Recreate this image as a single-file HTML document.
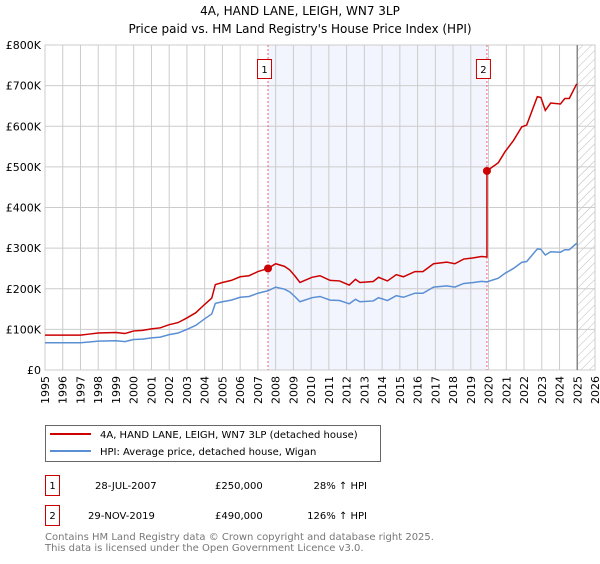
<!DOCTYPE html>
<html><head><meta charset="utf-8"><style>
body{margin:0;background:#fff;width:600px;height:560px;overflow:hidden;font-family:"DejaVu Sans","Liberation Sans",sans-serif;}
svg text{font-family:"DejaVu Sans","Liberation Sans",sans-serif;}
</style></head><body>
<svg id="chart" width="600" height="560" viewBox="0 0 600 560" xmlns="http://www.w3.org/2000/svg">
<defs>
<pattern id="hatch" width="6" height="6" patternUnits="userSpaceOnUse" patternTransform="rotate(45)">
<line x1="0" y1="0" x2="0" y2="6" stroke="#bbb" stroke-width="1"/>
</pattern>
</defs>
<text x="300" y="15" text-anchor="middle" font-size="12" fill="#000">4A, HAND LANE, LEIGH, WN7 3LP</text>
<text x="300" y="33" text-anchor="middle" font-size="12" fill="#000">Price paid vs. HM Land Registry's House Price Index (HPI)</text>
<g id="plot"></g>
<g>
<rect x="45.5" y="425.5" width="335" height="36" fill="#fff" stroke="#666"/>
<line x1="50" y1="434" x2="91" y2="434" stroke="#cc0000" stroke-width="2"/>
<text x="100" y="438" font-size="10">4A, HAND LANE, LEIGH, WN7 3LP (detached house)</text>
<line x1="50" y1="451" x2="91" y2="451" stroke="#5b8fd4" stroke-width="2"/>
<text x="100" y="455" font-size="10">HPI: Average price, detached house, Wigan</text>
</g>
<g>
<rect x="45.5" y="475.5" width="14" height="20" fill="#fff" stroke="#cc0000"/>
<text x="52.5" y="489" text-anchor="middle" font-size="10">1</text>
<text x="95" y="489" font-size="10">28-JUL-2007</text>
<text x="215" y="489" font-size="10">£250,000</text>
<text x="367" y="489" text-anchor="end" font-size="10">28% ↑ HPI</text>
<rect x="45.5" y="505.5" width="14" height="20" fill="#fff" stroke="#cc0000"/>
<text x="52.5" y="519" text-anchor="middle" font-size="10">2</text>
<text x="88" y="519" font-size="10">29-NOV-2019</text>
<text x="215" y="519" font-size="10">£490,000</text>
<text x="367" y="519" text-anchor="end" font-size="10">126% ↑ HPI</text>
</g>
<text x="45" y="540" font-size="10" fill="#777">Contains HM Land Registry data © Crown copyright and database right 2025.</text>
<text x="45" y="551" font-size="10" fill="#777">This data is licensed under the Open Government Licence v3.0.</text>
</svg>
<script>
const hpiYears=[1995,1996,1997,1997.5,1998,1999,1999.5,2000,2000.5,2001,2001.5,2002,2002.5,2003,2003.5,2004,2004.4,2004.6,2005,2005.5,2006,2006.5,2007,2007.57,2008,2008.5,2008.8,2009.1,2009.37,2010.05,2010.5,2011.07,2011.6,2012.15,2012.5,2012.75,2013.5,2013.8,2014.3,2014.8,2015.2,2015.85,2016.3,2016.9,2017.65,2018.1,2018.6,2019.1,2019.6,2019.91,2020.55,2020.93,2021.4,2021.87,2022.15,2022.75,2022.95,2023.2,2023.5,2024.05,2024.3,2024.55,2024.97];
const hpiValues=[67,67,67,69,71,72,70,75,76,79,81,87,91,100,110,126,138,164,168,172,179,181,189,195,204,199,192,180,168,178,181,172,171,163,174,168,170,178,171,183,179,189,189,204,207,204,213,215,218,217,226,238,250,265,267,298,297,283,291,290,296,296,312];
const saleDates=[2007.57,2019.91];
const salePrices=[250,490];
const saleLabels=["1","2"];
const yTicks=[0,100,200,300,400,500,600,700,800];
const yTickLabels=["£0","£100K","£200K","£300K","£400K","£500K","£600K","£700K","£800K"];
const xTicks=[1995,1996,1997,1998,1999,2000,2001,2002,2003,2004,2005,2006,2007,2008,2009,2010,2011,2012,2013,2014,2015,2016,2017,2018,2019,2020,2021,2022,2023,2024,2025,2026];
const dataEnd=2025.0;

const NS="http://www.w3.org/2000/svg";
const L=45,R=595,T=45,B=370,X0=1995,X1=2026,YMAX=800;
const xs=v=>L+(v-X0)/(X1-X0)*(R-L);
const ys=v=>B-v/YMAX*(B-T);
const g=document.getElementById('plot');
function mk(tag,attrs,parent){const e=document.createElementNS(NS,tag);for(const k in attrs)e.setAttribute(k,attrs[k]);(parent||g).appendChild(e);return e;}
function hpiAt(t){for(let i=0;i<hpiYears.length-1;i++){if(t>=hpiYears[i]&&t<=hpiYears[i+1]){const f=(t-hpiYears[i])/(hpiYears[i+1]-hpiYears[i]);return hpiValues[i]+f*(hpiValues[i+1]-hpiValues[i]);}}return hpiValues[hpiValues.length-1];}

let sh=mk('rect',{x:xs(saleDates[0]),y:T,width:xs(saleDates[1])-xs(saleDates[0]),height:B-T,fill:'#f2f5fd'});


let ht=mk('rect',{x:xs(dataEnd),y:T,width:R-xs(dataEnd),height:B-T,fill:'url(#hatch)'});


xTicks.forEach((t,i)=>{
 const l=mk('line',{x1:xs(t),x2:xs(t),y1:T,y2:B,stroke:'#cccccc','stroke-width':1});
 
 
 const tx=mk('text',{x:0,y:0,'font-size':11,'text-anchor':'end',transform:`translate(${xs(t)+4},${B+6}) rotate(-90)`});
 tx.textContent=t;
 
 
});
yTicks.forEach((v,i)=>{
 const l=mk('line',{x1:L,x2:R,y1:ys(v),y2:ys(v),stroke:'#cccccc','stroke-width':1});
 
 
 const tx=mk('text',{x:L-4,y:ys(v)+4,'font-size':11,'text-anchor':'end'});
 tx.textContent=yTickLabels[i];
 
 
});
let fr=mk('rect',{x:L,y:T,width:R-L,height:B-T,fill:'none',stroke:'#cccccc'});


let dl=mk('line',{x1:xs(dataEnd),x2:xs(dataEnd),y1:T,y2:B,stroke:'#888','stroke-width':1.5});


saleDates.forEach((d,i)=>{
 const l=mk('line',{x1:xs(d),x2:xs(d),y1:T,y2:B,stroke:'#ee6677','stroke-width':1,'stroke-dasharray':'2,2'});
 
 
 const bx=mk('rect',{x:xs(d)-10.5,y:59.5,width:14,height:19,fill:'#fff',stroke:'#cc0000'});
 
 
 const tx=mk('text',{x:xs(d)-3.5,y:73,'font-size':10,'text-anchor':'middle'});
 tx.textContent=saleLabels[i];
 
 
});
let hp=mk('polyline',{points:hpiYears.map((t,i)=>xs(t)+','+ys(hpiValues[i])).join(' '),fill:'none',stroke:'#5b8fd4','stroke-width':1.5});


const r1=salePrices[0]/hpiAt(saleDates[0]), r2=salePrices[1]/hpiAt(saleDates[1]);
const pts=[];
hpiYears.forEach((t,i)=>{if(t<saleDates[1])pts.push([t,hpiValues[i]*r1]);});
pts.push([saleDates[1],hpiAt(saleDates[1])*r1]);
pts.push([saleDates[1],salePrices[1]]);
hpiYears.forEach((t,i)=>{if(t>saleDates[1])pts.push([t,hpiValues[i]*r2]);});
let pl=mk('polyline',{points:pts.map(p=>xs(p[0])+','+ys(p[1])).join(' '),fill:'none',stroke:'#cc0000','stroke-width':1.5});


saleDates.forEach((d,i)=>{
 const c=mk('circle',{cx:xs(d),cy:ys(salePrices[i]),r:4,fill:'#cc0000'});
 
 
});
</script>
</body></html>
